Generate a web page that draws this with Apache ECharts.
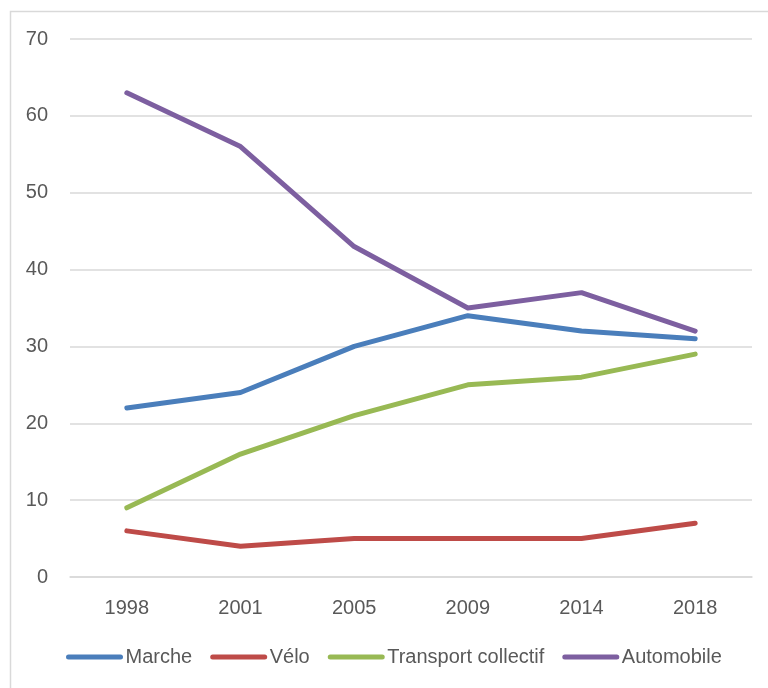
<!DOCTYPE html>
<html>
<head>
<meta charset="utf-8">
<script src="https://cdn.jsdelivr.net/npm/echarts@6/dist/echarts.min.js"></script>
<style>
  html, body { margin: 0; padding: 0; background: #fff; }
  #chart { width: 768px; height: 688px; }
</style>
</head>
<body>
<div id="chart"></div>
<script>
const years = ['1998', '2001', '2005', '2009', '2014', '2018']
const marche = [22, 24, 30, 34, 32, 31]
const velo = [6, 4, 5, 5, 5, 7]
const transport = [9, 16, 21, 25, 26, 29]
const automobile = [63, 56, 43, 35, 37, 32]

const font = 'Liberation Sans'
const textColor = '#595959'

// une série de ligne
const makeLine = (name, data, color) => ({
  name: name,
  type: 'line',
  data: data,
  symbol: 'none',
  lineStyle: { width: 5, color: color, cap: 'round', join: 'round' },
  itemStyle: { color: color }
})

const chart = echarts.init(document.getElementById('chart'))
chart.setOption({
  animation: false,
  textStyle: { fontFamily: font },
  graphic: [{
    type: 'rect',
    shape: { x: 10.5, y: 11.5, width: 780, height: 700 },
    style: { fill: 'none', stroke: '#d9d9d9', lineWidth: 1.5 },
    silent: true
  }],
  grid: { left: 70, right: 16, top: 39, bottom: 111 },
  legend: {
    left: 66,
    top: 647,
    padding: 0,
    itemWidth: 52,
    itemHeight: 20,
    itemGap: 18,
    textStyle: { fontSize: 20, color: textColor, fontFamily: font },
    itemStyle: { opacity: 0 },
    lineStyle: { width: 5, cap: 'round' },
    data: ['Marche', 'Vélo', 'Transport collectif', 'Automobile']
  },
  xAxis: {
    type: 'category',
    data: years,
    boundaryGap: true,
    axisLine: { show: true, lineStyle: { color: '#d9d9d9', width: 1.5 } },
    axisTick: { show: false },
    axisLabel: { fontSize: 20, color: textColor, margin: 21 }
  },
  yAxis: {
    type: 'value',
    min: 0,
    max: 70,
    interval: 10,
    axisLine: { show: false },
    axisTick: { show: false },
    axisLabel: { fontSize: 20, color: textColor, margin: 22 },
    splitLine: { lineStyle: { color: '#d9d9d9', width: 1.5 } }
  },
  series: [
    makeLine('Marche', marche, '#4a7ebb'),
    makeLine('Vélo', velo, '#be4b48'),
    makeLine('Transport collectif', transport, '#98b954'),
    makeLine('Automobile', automobile, '#7d5fa0')
  ]
})
</script>
</body>
</html>
